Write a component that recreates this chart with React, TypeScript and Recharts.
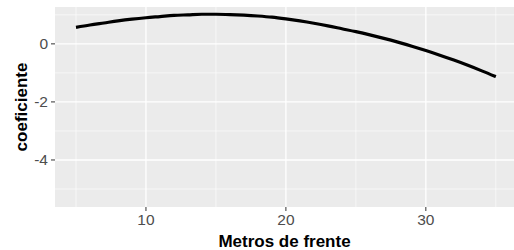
import React from 'react'
import { LineChart, Line, XAxis, YAxis, CartesianGrid, Label } from 'recharts'

// metros de frente vs coeficiente estimado
const metros = [5, 6, 7, 8, 9, 10, 11, 12, 13, 14, 15, 16, 17, 18, 19, 20, 21, 22, 23, 24, 25, 26, 27, 28, 29, 30, 31, 32, 33, 34, 35]
const coeficiente = [0.57, 0.65, 0.72, 0.79, 0.85, 0.9, 0.94, 0.98, 1.0, 1.02, 1.02, 1.01, 0.99, 0.96, 0.92, 0.86, 0.79, 0.71, 0.62, 0.52, 0.42, 0.31, 0.19, 0.06, -0.08, -0.23, -0.39, -0.56, -0.74, -0.93, -1.13]

const xTicks = [10, 20, 30]
const xMinor = [5, 15, 25, 35]
const yTicks = [-4, -2, 0]
const yMinor = [-5, -3, -1, 1]

const data = metros.map((m, i) => ({ m, c: coeficiente[i] }))

const FONT = '"Liberation Sans", Arial, Helvetica, sans-serif'

const YTitle = (props: any) => {
  const { x, y, height } = props.viewBox
  const cx = x + 21
  const cy = y + height / 2
  return (
    <text x={cx} y={cy} transform={`rotate(-90 ${cx} ${cy})`} textAnchor="middle"
      dominantBaseline="central" fontSize={17} fontWeight="bold" fill="#000" fontFamily={FONT}>
      coeficiente
    </text>
  )
}

export default function App() {
  return (
    <div style={{ position: 'absolute', left: 0, top: 0, width: 514, height: 250, background: '#fff', fontFamily: FONT }}>
      <LineChart width={514} height={250} data={data} margin={{ top: 7, right: 0, bottom: 0, left: 0 }}>
        <CartesianGrid fill="#EBEBEB" stroke="#FFFFFF" strokeWidth={0.6}
          horizontalValues={yMinor} verticalValues={xMinor} />
        <CartesianGrid stroke="#FFFFFF" strokeWidth={1.3}
          horizontalValues={yTicks} verticalValues={xTicks} />
        <XAxis dataKey="m" type="number" domain={[3.5, 36.3]} allowDataOverflow ticks={xTicks}
          axisLine={false} tickSize={4} tickMargin={3} height={43}
          tickLine={{ stroke: '#333333', strokeWidth: 1 }}
          tick={{ fontSize: 15.5, fill: '#4D4D4D', fontFamily: FONT }}>
          <Label value="Metros de frente" position="insideBottom" offset={3}
            style={{ fontSize: 17, fontWeight: 'bold', fill: '#000', fontFamily: FONT }} />
        </XAxis>
        <YAxis type="number" domain={[-5.62, 1.27]} allowDataOverflow ticks={yTicks}
          axisLine={false} tickSize={4} tickMargin={3} width={55}
          tickLine={{ stroke: '#333333', strokeWidth: 1 }}
          tick={{ fontSize: 15.5, fill: '#4D4D4D', fontFamily: FONT }}>
          <Label content={YTitle} />
        </YAxis>
        <Line type="monotone" dataKey="c" stroke="#000" strokeWidth={3.2} dot={false} isAnimationActive={false} />
      </LineChart>
    </div>
  )
}
